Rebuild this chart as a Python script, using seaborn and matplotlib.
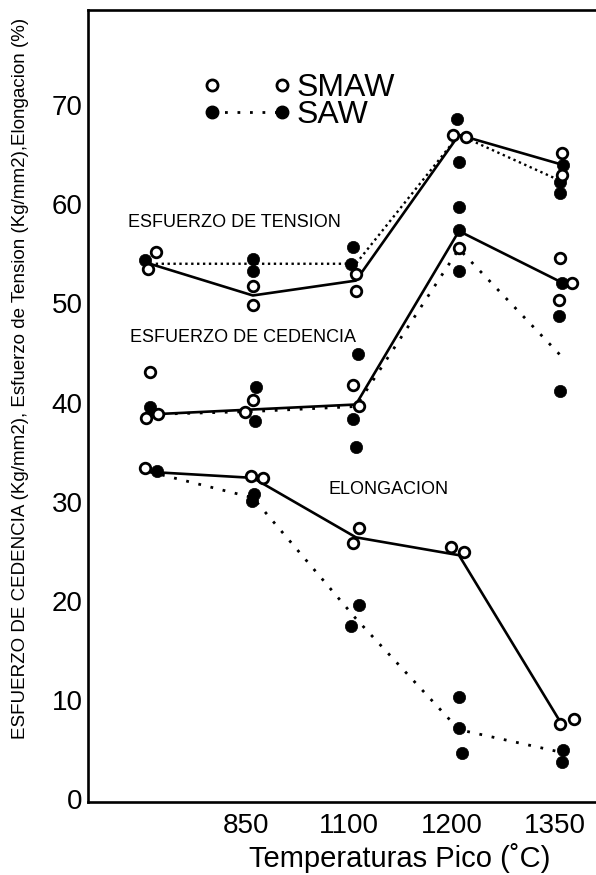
import numpy as np
import pandas as pd
import matplotlib
matplotlib.use("Agg")
import matplotlib.pyplot as plt
import matplotlib.transforms as mtransforms
from matplotlib.lines import Line2D
import seaborn as sns

# Peak temperatures (first group is the unlabelled reference condition)
temp_labels = ["", "850", "1100", "1200", "1350"]

# Individual test results, one inner list per peak temperature
tension_smaw = [[55.2, 53.5], [51.8, 49.8], [53.0, 51.3], [67.0, 66.8], [65.2, 63.0]]
tension_saw = [[54.4], [54.5, 53.3], [55.7, 54.0], [68.6, 64.3, 59.7], [64.0, 62.2, 61.1]]
yield_smaw = [[43.1, 38.4, 38.8], [40.3, 39.0], [41.8, 39.7], [55.6], [54.6, 52.1, 50.3]]
yield_saw = [[39.5], [41.6, 38.1], [44.9, 38.3, 35.5], [57.4, 53.3], [52.1, 48.7, 41.2]]
elong_smaw = [[33.4], [32.6, 32.4], [27.3, 25.8], [25.4, 24.9], [7.6, 8.1]]
elong_saw = [[33.1], [30.8, 30.1], [19.6, 17.5], [10.3, 7.2, 4.6], [4.9, 3.7]]

# Trend lines through each group
tension_smaw_line = [54.0, 50.8, 52.3, 67.0, 64.0]
tension_saw_line = [54.0, 54.0, 54.0, 67.0, 62.3]
yield_smaw_line = [38.8, 39.3, 39.8, 57.3, 52.1]
yield_saw_line = [38.8, 39.1, 39.6, 55.5, 44.6]
elong_smaw_line = [33.0, 32.4, 26.4, 24.6, 7.5]
elong_saw_line = [33.0, 30.4, 18.2, 7.0, 4.7]

# Horizontal spread of overlapping specimens (fraction of a category width)
nudges = {
    "tension_smaw": [[0.06, -0.02], [0, 0], [0, 0], [-0.06, 0.07], [0, 0]],
    "tension_saw": [[-0.05], [0, 0], [-0.03, -0.05], [-0.02, 0, 0], [0.01, -0.02, -0.02]],
    "yield_smaw": [[0, -0.04, 0.08], [0, -0.08], [-0.03, 0.03], [0], [-0.02, 0.1, -0.03]],
    "yield_saw": [[0], [0.03, 0.02], [0.02, -0.03, 0], [0, 0], [0, -0.03, -0.02]],
    "elong_smaw": [[-0.05], [-0.02, 0.1], [0.03, -0.03], [-0.08, 0.05], [-0.02, 0.12]],
    "elong_saw": [[0.07], [0.01, -0.01], [0.03, -0.05], [0, 0, 0.03], [0.01, 0]],
}

sns.set_theme(style="white")
plt.rcParams["font.family"] = ["Liberation Sans", "DejaVu Sans"]
plt.rcParams.update({"text.color": "black", "axes.labelcolor": "black",
                     "xtick.color": "black", "ytick.color": "black"})

fig = plt.figure(figsize=(5.96, 8.75), dpi=100)
ax = fig.add_axes([88 / 596, 1 - 802 / 875, 508 / 596, 792 / 875])

positions = np.arange(len(temp_labels))


def to_long(values, offsets, process):
    rows = []
    for i, (vals, offs) in enumerate(zip(values, offsets)):
        for v, o in zip(vals, offs):
            rows.append({"pos": i + o, "value": v, "process": process})
    return rows


rows = []
for key, vals in [("tension_smaw", tension_smaw), ("yield_smaw", yield_smaw),
                  ("elong_smaw", elong_smaw)]:
    rows += to_long(vals, nudges[key], "SMAW")
for key, vals in [("tension_saw", tension_saw), ("yield_saw", yield_saw),
                  ("elong_saw", elong_saw)]:
    rows += to_long(vals, nudges[key], "SAW")
points = pd.DataFrame(rows)

dense_dots = (0, (1, 1.5))
sparse_dots = (0, (1, 3.5))

# trend lines
for vals, ls, lw in [
    (tension_smaw_line, "-", 1.9), (yield_smaw_line, "-", 1.9), (elong_smaw_line, "-", 1.9),
    (tension_saw_line, dense_dots, 1.7), (yield_saw_line, sparse_dots, 2.0),
    (elong_saw_line, sparse_dots, 2.0),
]:
    sns.lineplot(x=positions, y=vals, color="black", linestyle=ls, linewidth=lw,
                 sort=False, estimator=None, ax=ax, zorder=2)

# specimens
sns.scatterplot(data=points[points.process == "SAW"], x="pos", y="value",
                color="black", edgecolor="black", s=78, linewidth=0.5,
                ax=ax, zorder=3, legend=False)
sns.scatterplot(data=points[points.process == "SMAW"], x="pos", y="value",
                color="white", edgecolor="black", s=58, linewidth=2.0,
                ax=ax, zorder=4, legend=False)

# group annotations
ax.text(-0.21, 58.2, "ESFUERZO DE TENSION", fontsize=13, ha="left", va="center")
ax.text(-0.19, 46.6, "ESFUERZO DE CEDENCIA", fontsize=13, ha="left", va="center")
ax.text(1.73, 31.2, "ELONGACION", fontsize=13, ha="left", va="center")

# legend
handles = [
    Line2D([], [], marker="o", linestyle="none", markerfacecolor="white",
           markeredgecolor="black", markeredgewidth=2.0, markersize=8, label="SMAW"),
    Line2D([], [], marker="o", linestyle=sparse_dots, color="black", linewidth=2,
           markersize=9, label="SAW"),
]
ax.legend(handles=handles, loc="upper left", bbox_to_anchor=(0.225, 0.92),
          frameon=False, fontsize=23, numpoints=2, handlelength=2.78,
          handletextpad=0.17, labelspacing=-0.11, borderpad=0, borderaxespad=0)

# axes
ax.set_xlim(-0.60, 4.33)
ax.set_ylim(-0.3, 79.6)
ax.set_xticks(positions, temp_labels)
ax.set_yticks(np.arange(0, 71, 10))
ax.tick_params(axis="x", direction="in", length=3, width=1, pad=8, labelsize=20)
ax.tick_params(axis="y", length=0, pad=4, labelsize=20)
shift = mtransforms.ScaledTranslation(-7 / 100, 0, fig.dpi_scale_trans)
for lbl in ax.get_xticklabels():
    lbl.set_transform(lbl.get_transform() + shift)
for side in ["left", "bottom", "top"]:
    ax.spines[side].set_visible(True)
    ax.spines[side].set_color("black")
    ax.spines[side].set_linewidth(1.9)
ax.spines["right"].set_visible(False)

ax.set_xlabel("Temperaturas Pico (˚C)", fontsize=21)
ax.xaxis.set_label_coords((400 - 88) / 508, (802 - 843) / 792)
ax.set_ylabel("ESFUERZO DE CEDENCIA (Kg/mm2), Esfuerzo de Tension (Kg/mm2),Elongacion (%)",
              fontsize=13.5)
ax.yaxis.set_label_coords(-(88 - 21) / 508, (802 - 378) / 792)
ax.yaxis.label.set_va("center")

fig.savefig("out.png", dpi=100, facecolor="white")
